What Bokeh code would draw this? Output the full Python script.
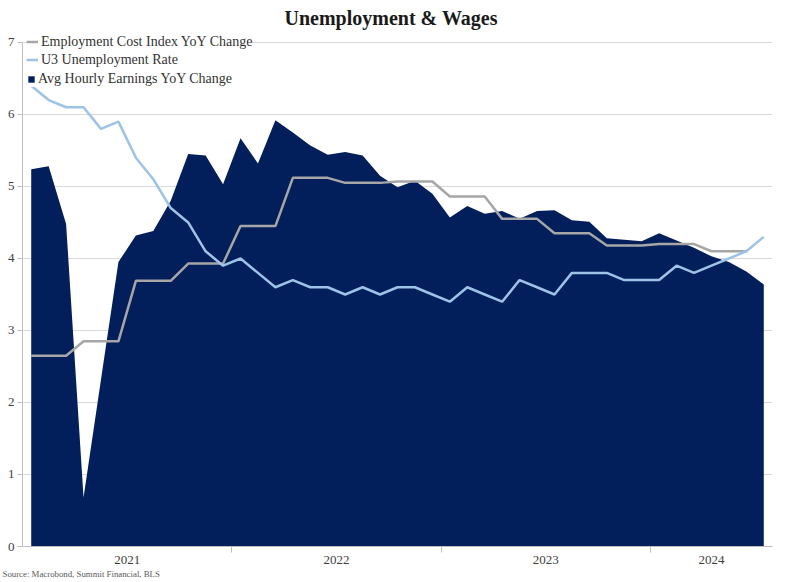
from bokeh.plotting import figure
from bokeh.models import (Range1d, FixedTicker, Legend, LegendItem, Title,
                          ColumnDataSource)
from bokeh.embed import file_html
from bokeh.resources import INLINE

# ---------------- data ----------------
months = [f"{y}-{m:02d}" for y in (2021, 2022, 2023, 2024) for m in range(1, 13)][:43]

ahe = [5.24, 5.28, 4.48, 0.68, 2.32, 3.95, 4.32, 4.38, 4.80, 5.45, 5.43, 5.03,
       5.67, 5.32, 5.92, 5.75, 5.57, 5.44, 5.48, 5.43, 5.15, 4.99, 5.08, 4.90,
       4.57, 4.73, 4.62, 4.66, 4.55, 4.66, 4.67, 4.53, 4.51, 4.28, 4.26, 4.24,
       4.35, 4.25, 4.15, 4.03, 3.95, 3.82, 3.64]

u3 = [6.4, 6.2, 6.1, 6.1, 5.8, 5.9, 5.4, 5.1, 4.7, 4.5, 4.1, 3.9,
      4.0, 3.8, 3.6, 3.7, 3.6, 3.6, 3.5, 3.6, 3.5, 3.6, 3.6, 3.5,
      3.4, 3.6, 3.5, 3.4, 3.7, 3.6, 3.5, 3.8, 3.8, 3.8, 3.7, 3.7,
      3.7, 3.9, 3.8, 3.9, 4.0, 4.1, 4.3]

eci = [2.65, 2.65, 2.65, 2.85, 2.85, 2.85, 3.69, 3.69, 3.69, 3.93, 3.93, 3.93,
       4.45, 4.45, 4.45, 5.12, 5.12, 5.12, 5.05, 5.05, 5.05, 5.07, 5.07, 5.07,
       4.86, 4.86, 4.86, 4.55, 4.55, 4.55, 4.35, 4.35, 4.35, 4.18, 4.18, 4.18,
       4.20, 4.20, 4.20, 4.10, 4.10, 4.10]

year_labels = ["2021", "2022", "2023", "2024"]
y_ticks = [0, 1, 2, 3, 4, 5, 6, 7]

# ---------------- derived positions ----------------
x = list(range(len(months)))
centers = {}
for yl in year_labels:
    idx = [i for i, m in enumerate(months) if m.startswith(yl)]
    centers[(idx[0] + idx[-1]) / 2] = yl
boundaries = [i - 0.5 for i, m in enumerate(months) if m.endswith("-01") and i > 0]

SERIF = "Liberation Serif"
NAVY = "#021F5B"
GRAY = "#A6A6A6"
LBLUE = "#9DC3E6"
AXIS = "#BFBFBF"

p = figure(width=785, height=582,
           x_range=Range1d(-0.5, len(months) - 0.5), y_range=Range1d(0, 7.18),
           output_backend="svg", toolbar_location=None,
           min_border_left=22, min_border_right=13,
           min_border_top=29, min_border_bottom=36)
p.outline_line_color = None
p.background_fill_color = "white"

p.title.text = "Unemployment & Wages"
p.title.align = "left"
p.title.offset = 262
p.title.text_font = SERIF
p.title.text_font_size = "20px"
p.title.text_font_style = "bold"
p.title.text_color = "#1a1a1a"
p.title.standoff = 2

# y axis
p.yaxis.ticker = FixedTicker(ticks=y_ticks)
p.yaxis.bounds = (0, 7)
p.yaxis.axis_line_color = AXIS
p.yaxis.major_tick_line_color = AXIS
p.yaxis.major_tick_out = 5
p.yaxis.major_tick_in = 0
p.yaxis.minor_tick_line_color = None
p.yaxis.major_label_standoff = 3
p.yaxis.major_label_text_font = SERIF
p.yaxis.major_label_text_font_size = "13px"
p.yaxis.major_label_text_color = "#404040"

# x axis
p.xaxis.ticker = FixedTicker(ticks=list(centers.keys()), minor_ticks=boundaries)
p.xaxis.major_label_overrides = centers
p.xaxis.axis_line_color = AXIS
p.xaxis.major_tick_line_color = None
p.xaxis.major_tick_out = 6
p.xaxis.major_tick_in = 0
p.xaxis.minor_tick_line_color = AXIS
p.xaxis.minor_tick_out = 6
p.xaxis.minor_tick_in = 0
p.xaxis.major_label_standoff = 3
p.xaxis.major_label_text_font = SERIF
p.xaxis.major_label_text_font_size = "13px"
p.xaxis.major_label_text_color = "#404040"

p.xgrid.visible = False
p.ygrid.grid_line_color = "#D9D9D9"
p.ygrid.grid_line_width = 1

src = ColumnDataSource(dict(x=x, ahe=ahe, u3=u3))
src_eci = ColumnDataSource(dict(x=x[:len(eci)], eci=eci))

area_r = p.varea(x="x", y1=0, y2="ahe", source=src, fill_color=NAVY)
eci_r = p.line("x", "eci", source=src_eci, line_color=GRAY, line_width=2.5)
u3_r = p.line("x", "u3", source=src, line_color=LBLUE, line_width=2.5, level="overlay")


def style_legend(lg, gw, gh):
    lg.background_fill_color = "white"
    lg.background_fill_alpha = 1
    lg.border_line_color = None
    lg.padding = 2
    lg.spacing = 1
    lg.margin = 0
    lg.glyph_width = gw
    lg.glyph_height = gh
    lg.label_height = 17
    lg.label_standoff = 3
    lg.label_text_font = SERIF
    lg.label_text_font_size = "14px"
    lg.label_text_color = "#333333"


legend1 = Legend(items=[
    LegendItem(label="Employment Cost Index YoY Change", renderers=[eci_r]),
    LegendItem(label="U3 Unemployment Rate", renderers=[u3_r]),
], location=(4, 478))
style_legend(legend1, 12, 17)
p.add_layout(legend1)

legend2 = Legend(items=[
    LegendItem(label="Avg Hourly Earnings YoY Change", renderers=[area_r]),
], location=(5, 459))
style_legend(legend2, 8, 8)
p.add_layout(legend2)

p.add_layout(Title(text="Source: Macrobond, Summit Financial, BLS", align="left",
                   offset=-20, standoff=0, text_font=SERIF, text_font_size="8.8px",
                   text_font_style="normal", text_color="#595959"), "below")

open("out.html", "w").write(file_html(p, INLINE))
